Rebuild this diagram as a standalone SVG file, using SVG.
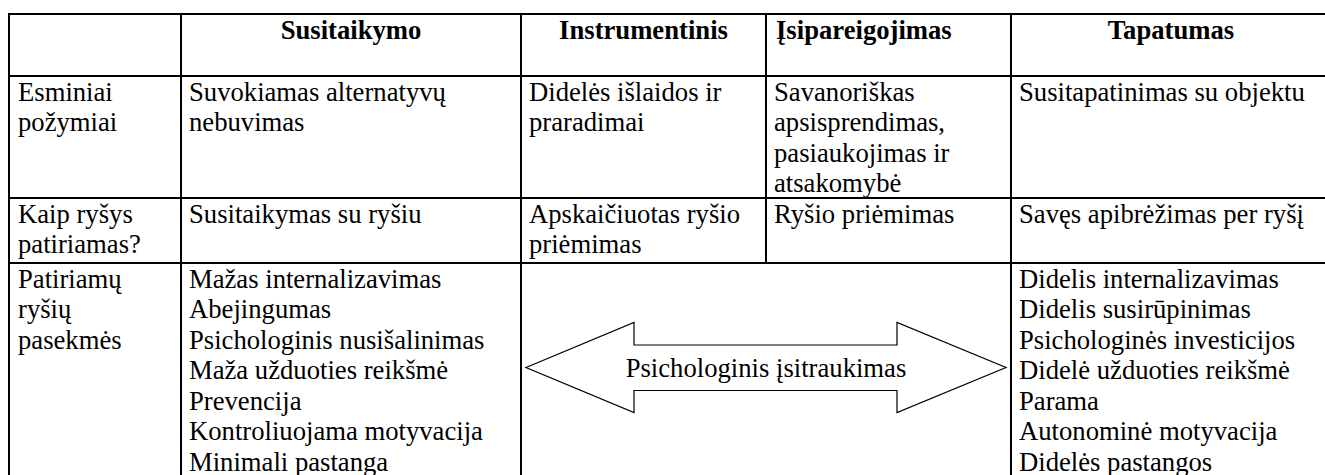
<svg xmlns="http://www.w3.org/2000/svg" width="1325" height="475" viewBox="0 0 1325 475">
<style>
text{font-family:"Liberation Serif","Times New Roman",serif;font-size:26.67px;fill:#000}
.h{font-weight:bold}
.c{text-anchor:middle}
.grid line{stroke:#000;stroke-width:2}
.arrow{fill:#fff;stroke:#000;stroke-width:1.2;stroke-linejoin:miter}
</style>
<rect width="1325" height="475" fill="#fff"/>
<g id="grid" class="grid">
<line x1="8" y1="14" x2="1325" y2="14"/>
<line x1="8" y1="76" x2="1325" y2="76"/>
<line x1="8" y1="198" x2="1325" y2="198"/>
<line x1="8" y1="263" x2="1325" y2="263"/>
<line x1="9" y1="13" x2="9" y2="475"/>
<line x1="181" y1="13" x2="181" y2="475"/>
<line x1="521" y1="13" x2="521" y2="475"/>
<line x1="766" y1="13" x2="766" y2="263"/>
<line x1="1011" y1="13" x2="1011" y2="475"/>
</g>
<g id="header">
<text class="h c" x="351" y="39">Susitaikymo</text>
<text class="h c" x="643.5" y="39">Instrumentinis</text>
<text class="h" x="776" y="39">Įsipareigojimas</text>
<text class="h c" x="1171" y="39">Tapatumas</text>
</g>
<g id="row1">
<text x="18" y="100.5">Esminiai</text>
<text x="18" y="131">požymiai</text>
<text x="189" y="100.5">Suvokiamas alternatyvų</text>
<text x="189" y="131">nebuvimas</text>
<text x="529" y="100.5">Didelės išlaidos ir</text>
<text x="529" y="131">praradimai</text>
<text x="774" y="100.5">Savanoriškas</text>
<text x="774" y="131">apsisprendimas,</text>
<text x="774" y="161.5">pasiaukojimas ir</text>
<text x="774" y="192">atsakomybė</text>
<text x="1019" y="100.5">Susitapatinimas su objektu</text>
</g>
<g id="row2">
<text x="18" y="222.5">Kaip ryšys</text>
<text x="18" y="253">patiriamas?</text>
<text x="189" y="222.5">Susitaikymas su ryšiu</text>
<text x="529" y="222.5">Apskaičiuotas ryšio</text>
<text x="529" y="253">priėmimas</text>
<text x="774" y="222.5">Ryšio priėmimas</text>
<text x="1019" y="222.5">Savęs apibrėžimas per ryšį</text>
</g>
<g id="row3-label">
<text x="18" y="287.5">Patiriamų</text>
<text x="18" y="318">ryšių</text>
<text x="18" y="348.5">pasekmės</text>
</g>
<g id="row3-susitaikymo">
<text x="189" y="287.5">Mažas internalizavimas</text>
<text x="189" y="318">Abejingumas</text>
<text x="189" y="348.5">Psichologinis nusišalinimas</text>
<text x="189" y="379">Maža užduoties reikšmė</text>
<text x="189" y="409.5">Prevencija</text>
<text x="189" y="440">Kontroliuojama motyvacija</text>
<text x="189" y="470.5">Minimali pastanga</text>
</g>
<g id="row3-tapatumas">
<text x="1019" y="287.5">Didelis internalizavimas</text>
<text x="1019" y="318">Didelis susirūpinimas</text>
<text x="1019" y="348.5">Psichologinės investicijos</text>
<text x="1019" y="379">Didelė užduoties reikšmė</text>
<text x="1019" y="409.5">Parama</text>
<text x="1019" y="440">Autonominė motyvacija</text>
<text x="1019" y="470.5">Didelės pastangos</text>
</g>
<g id="arrow-psichologinis">
<polygon class="arrow" points="526,367.5 634,322.5 634,345 897,345 897,322.5 1006,367.5 897,412.5 897,390.5 634,390.5 634,412.5"/>
<text class="c" x="766" y="376.5">Psichologinis įsitraukimas</text>
</g>
</svg>
